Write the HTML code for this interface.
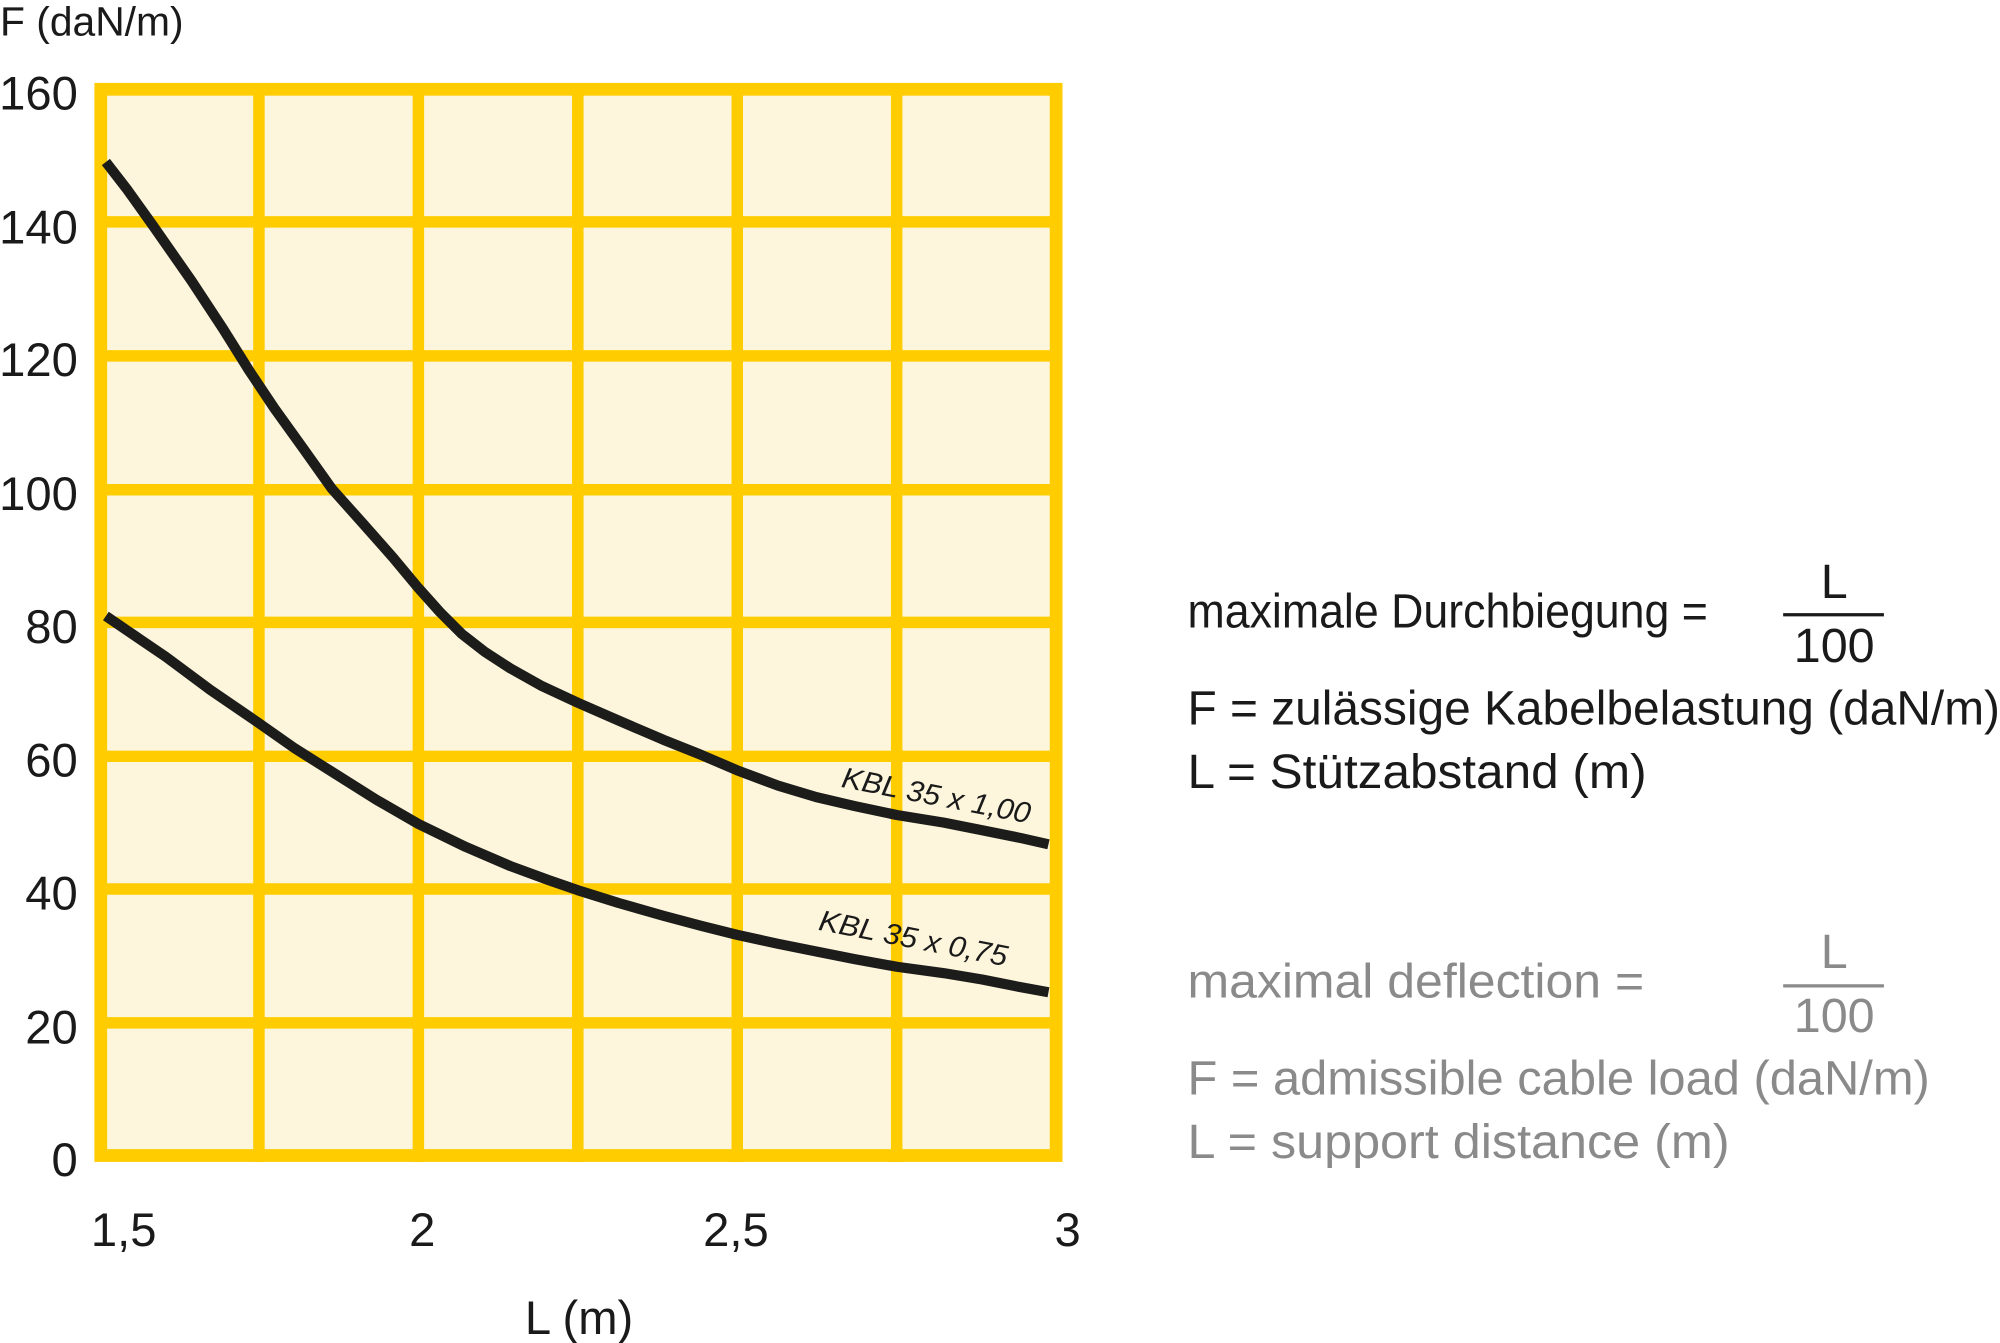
<!DOCTYPE html>
<html><head><meta charset="utf-8"><style>
html,body{margin:0;padding:0;background:#fff;}
svg{display:block;}
text{font-family:"Liberation Sans","DejaVu Sans",sans-serif;}
</style></head><body>
<svg width="2000" height="1343" viewBox="0 0 1568 1053" preserveAspectRatio="none" xmlns="http://www.w3.org/2000/svg">
<rect x="75" y="66" width="758" height="845" fill="#fdf6dc"/>
<g stroke="#ffcc00" stroke-width="9" fill="none">
<line x1="203" y1="66" x2="203" y2="911"/>
<line x1="328" y1="66" x2="328" y2="911"/>
<line x1="453" y1="66" x2="453" y2="911"/>
<line x1="578" y1="66" x2="578" y2="911"/>
<line x1="703" y1="66" x2="703" y2="911"/>
<line x1="75" y1="174" x2="833" y2="174"/>
<line x1="75" y1="279" x2="833" y2="279"/>
<line x1="75" y1="384" x2="833" y2="384"/>
<line x1="75" y1="488" x2="833" y2="488"/>
<line x1="75" y1="593" x2="833" y2="593"/>
<line x1="75" y1="697" x2="833" y2="697"/>
<line x1="75" y1="802" x2="833" y2="802"/>
<rect x="79" y="70" width="749" height="836" stroke-width="10"/>
</g>
<g stroke="#1c1c1a" stroke-width="8" fill="none" stroke-linejoin="round">
<polyline points="83,127 100,149 120,177 150,220 175,258 195,290 215,320 238,352 260,383 285,411 308,437 328,461 345,480 362,497 380,511 400,524 425,538 453,551 485,565 520,580 550,592 578,604 610,616 640,625 670,632 703,639 740,645 770,651 800,657 822,662"/>
<polyline points="83,483 105,498 130,515 165,541 203,567 230,586 260,605 295,627 328,646 365,664 400,679 430,690 453,698 485,708 520,718 550,726 578,733 610,740 640,746 670,752 703,758 740,763 770,768 800,774 822,778"/>
</g>
<g fill="#1a1a1a" font-style="italic" font-size="23">
<text transform="translate(659,617) rotate(11)" textLength="150" lengthAdjust="spacingAndGlyphs">KBL 35 x 1,00</text>
<text transform="translate(641,729) rotate(11)" textLength="150" lengthAdjust="spacingAndGlyphs">KBL 35 x 0,75</text>
</g>
<g fill="#1a1a1a" font-size="37" text-anchor="end">
<text x="61" y="86">160</text>
<text x="61" y="191">140</text>
<text x="61" y="295">120</text>
<text x="61" y="400">100</text>
<text x="61" y="504">80</text>
<text x="61" y="609">60</text>
<text x="61" y="713">40</text>
<text x="61" y="818">20</text>
<text x="61" y="922">0</text>
</g>
<g fill="#1a1a1a" font-size="37" text-anchor="middle">
<text x="97" y="977">1,5</text>
<text x="331" y="977">2</text>
<text x="577" y="977">2,5</text>
<text x="837" y="977">3</text>
<text x="454" y="1046">L (m)</text>
</g>
<text x="0" y="28" font-size="32" fill="#1a1a1a">F (daN/m)</text>
<g fill="#1a1a1a" font-size="38">
<text x="931" y="492" textLength="408" lengthAdjust="spacingAndGlyphs">maximale Durchbiegung =</text>
<text x="1438" y="469" text-anchor="middle">L</text>
<text x="1438" y="519" text-anchor="middle">100</text>
<text x="931" y="568" textLength="637" lengthAdjust="spacingAndGlyphs">F = zulässige Kabelbelastung (daN/m)</text>
<text x="931" y="618" textLength="360" lengthAdjust="spacingAndGlyphs">L = Stützabstand (m)</text>
</g>
<line x1="1398" y1="482" x2="1477" y2="482" stroke="#1a1a1a" stroke-width="2.5"/>
<g fill="#8a8a8a" font-size="38">
<text x="931" y="782" textLength="358" lengthAdjust="spacingAndGlyphs">maximal deflection =</text>
<text x="1438" y="759" text-anchor="middle">L</text>
<text x="1438" y="809" text-anchor="middle">100</text>
<text x="931" y="858" textLength="582" lengthAdjust="spacingAndGlyphs">F = admissible cable load (daN/m)</text>
<text x="931" y="908" textLength="425" lengthAdjust="spacingAndGlyphs">L = support distance (m)</text>
</g>
<line x1="1398" y1="773" x2="1477" y2="773" stroke="#8a8a8a" stroke-width="2.5"/>
</svg>
</body></html>
